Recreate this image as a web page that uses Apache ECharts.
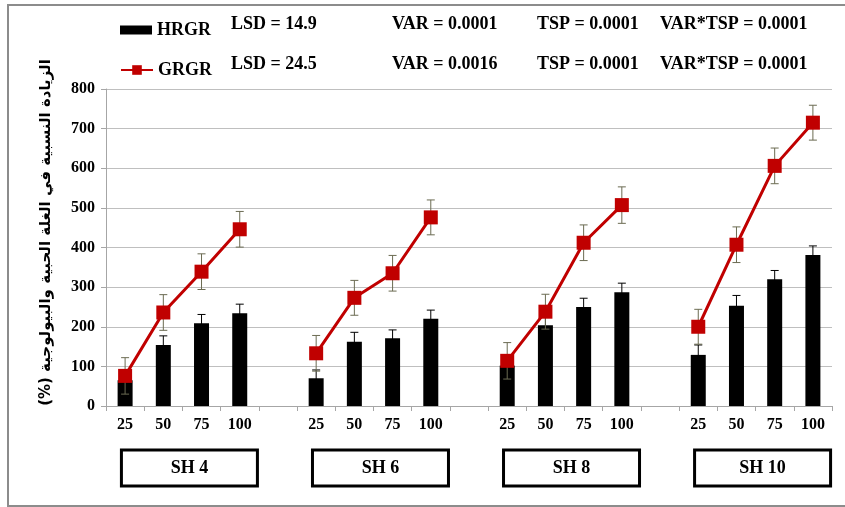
<!DOCTYPE html>
<html>
<head>
<meta charset="utf-8">
<script src="https://cdn.jsdelivr.net/npm/echarts@6/dist/echarts.min.js"></script>
<style>
html,body{margin:0;padding:0;background:#fff;}
#c{width:845px;height:507px;}
</style>
</head>
<body>
<div id="c"></div>
<script>
// ---- data ----
const groups = ['SH 4', 'SH 6', 'SH 8', 'SH 10'];
const doses = ['25', '50', '75', '100'];
const hrgr = [[65, 154, 209, 234], [70, 162, 171, 220], [102, 204, 250, 287], [129, 253, 320, 381]];
const hrgrErr = [[20, 23, 22, 23], [21, 24, 21, 22], [22, 22, 22, 23], [25, 26, 22, 23]];
const grgr = [[76, 236, 339, 446], [133, 273, 335, 476], [114, 238, 412, 507], [200, 407, 606, 715]];
const grgrErr = [[46, 45, 45, 45], [45, 44, 45, 44], [46, 44, 45, 46], [44, 45, 45, 44]];
const statsHRGR = ['LSD = 14.9', 'VAR = 0.0001', 'TSP = 0.0001', 'VAR*TSP = 0.0001'];
const statsGRGR = ['LSD = 24.5', 'VAR = 0.0016', 'TSP = 0.0001', 'VAR*TSP = 0.0001'];
const yTicks = [0, 100, 200, 300, 400, 500, 600, 700, 800];
const yTitle = 'الزيادة النسبية في الغلة الحبية والبيولوجية (%)';

// ---- build flattened category axis with a gap between groups ----
const cats = [], barData = [], lineData = [], barErr = [], lineErr = [];
groups.forEach((g, gi) => {
  doses.forEach((d, di) => {
    cats.push(d);
    barData.push(hrgr[gi][di]);
    lineData.push(grgr[gi][di]);
    barErr.push([cats.length - 1, hrgr[gi][di], hrgrErr[gi][di]]);
    lineErr.push([cats.length - 1, grgr[gi][di], grgrErr[gi][di]]);
  });
  if (gi < groups.length - 1) {
    cats.push('');
    barData.push(null);
    lineData.push(null);
  }
});

const serif = '"Liberation Serif","Times New Roman",serif';

function errRender(color) {
  return function (params, api) {
    const x = api.value(0), v = api.value(1), e = api.value(2);
    const top = api.coord([x, v + e]);
    const bot = api.coord([x, v - e]);
    const hw = 4;
    const style = { stroke: color, lineWidth: 1 };
    return {
      type: 'group',
      children: [
        { type: 'line', shape: { x1: top[0], y1: top[1], x2: bot[0], y2: bot[1] }, style: style },
        { type: 'line', shape: { x1: top[0] - hw, y1: top[1], x2: top[0] + hw, y2: top[1] }, style: style },
        { type: 'line', shape: { x1: bot[0] - hw, y1: bot[1], x2: bot[0] + hw, y2: bot[1] }, style: style }
      ]
    };
  };
}

const chart = echarts.init(document.getElementById('c'), null, { renderer: 'canvas' });

const legendText = { fontFamily: serif, fontWeight: 'bold', fontSize: 18, color: '#000' };
const option = {
  animation: false,
  backgroundColor: '#fff',
  grid: { left: 106, right: 13, top: 89, bottom: 101 },
  legend: [
    {
      left: 115, top: 16,
      itemWidth: 32, itemHeight: 9,
      textStyle: legendText,
      data: [{ name: 'HRGR', icon: 'rect' }]
    },
    {
      left: 115, top: 56,
      itemWidth: 32, itemHeight: 12,
      textStyle: legendText,
      data: ['GRGR']
    }
  ],
  xAxis: {
    type: 'category',
    data: cats,
    boundaryGap: true,
    axisLine: { lineStyle: { color: '#a6a6a6', width: 1 } },
    axisTick: { show: true, length: 5, lineStyle: { color: '#a6a6a6' }, interval: 0 },
    axisLabel: { interval: 0, fontFamily: serif, fontWeight: 'bold', fontSize: 16, color: '#000', margin: 11 },
    splitLine: { show: false }
  },
  yAxis: {
    type: 'value',
    min: yTicks[0],
    max: yTicks[yTicks.length - 1],
    interval: 100,
    name: '\u202B' + yTitle + '\u202C',
    nameLocation: 'middle',
    nameRotate: 90,
    nameGap: 52,
    nameTextStyle: { fontFamily: '"DejaVu Sans",sans-serif', fontWeight: 'bold', fontSize: 15, color: '#000', padding: [0, 0, 0, 30] },
    axisLine: { show: true, lineStyle: { color: '#a6a6a6' } },
    axisTick: { show: true, length: 5, lineStyle: { color: '#a6a6a6' } },
    axisLabel: { fontFamily: serif, fontWeight: 'bold', fontSize: 16, color: '#000', margin: 11 },
    splitLine: { lineStyle: { color: '#bfbfbf', width: 1 } }
  },
  series: [
    {
      name: 'HRGR',
      type: 'bar',
      data: barData,
      barWidth: 15,
      itemStyle: { color: '#000' },
      z: 2
    },
    {
      name: 'HRGR-err',
      type: 'custom',
      data: barErr,
      renderItem: errRender('#000'),
      z: 3,
      silent: true
    },
    {
      name: 'GRGR-err',
      type: 'custom',
      data: lineErr,
      renderItem: errRender('#6b6b52'),
      z: 4,
      silent: true
    },
    {
      name: 'GRGR',
      type: 'line',
      data: lineData,
      connectNulls: false,
      symbol: 'rect',
      symbolSize: 14,
      lineStyle: { color: '#c00000', width: 3 },
      itemStyle: { color: '#c00000' },
      z: 5
    }
  ]
};
chart.setOption(option);

// ---- annotations: stats text, group boxes, frame ----
const statX = [231, 392, 537, 660];
const gfx = [];
gfx.push({
  type: 'rect', shape: { x: 8, y: 5, width: 850, height: 501 },
  style: { fill: 'none', stroke: '#8c8c8c', lineWidth: 2 }, z: 0, silent: true
});
[statsHRGR, statsGRGR].forEach((row, ri) => {
  row.forEach((t, i) => {
    gfx.push({
      type: 'text', x: statX[i], y: ri === 0 ? 24 : 64,
      style: { text: t, fontFamily: serif, fontWeight: 'bold', fontSize: 18, fill: '#000', verticalAlign: 'middle', align: 'left' }
    });
  });
});
groups.forEach((g, gi) => {
  const first = gi * 5, last = gi * 5 + 3;
  const p1 = chart.convertToPixel({ xAxisIndex: 0 }, first);
  const p2 = chart.convertToPixel({ xAxisIndex: 0 }, last);
  const cx = (p1 + p2) / 2 + 7;
  const w = 136, h = 36, y = 450;
  gfx.push({
    type: 'rect', shape: { x: cx - w / 2, y: y, width: w, height: h },
    style: { fill: '#fff', stroke: '#000', lineWidth: 3 }
  });
  gfx.push({
    type: 'text', x: cx, y: y + h / 2,
    style: { text: g, fontFamily: serif, fontWeight: 'bold', fontSize: 18, fill: '#000', align: 'center', verticalAlign: 'middle' }
  });
});
chart.setOption({ graphic: gfx });
</script>
</body>
</html>
